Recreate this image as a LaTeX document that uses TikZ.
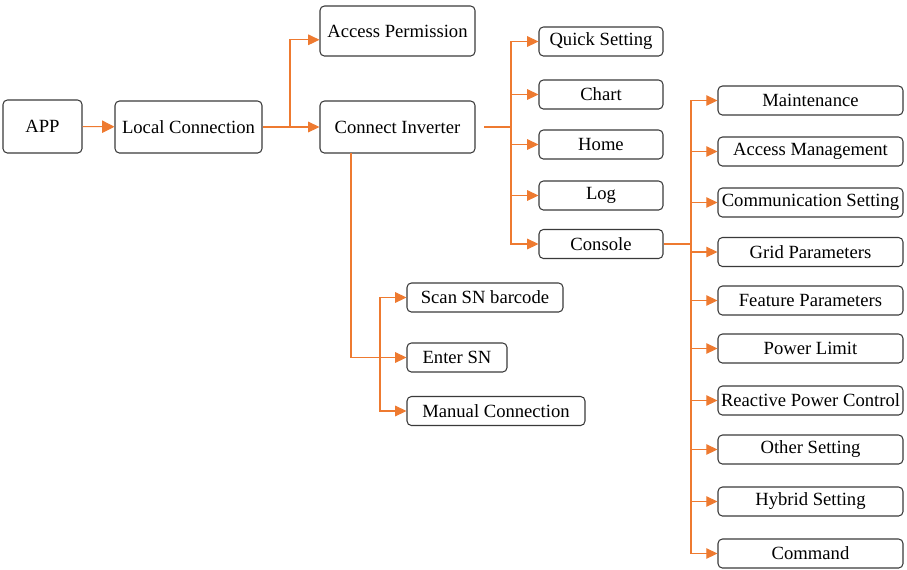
\documentclass[tikz,border=0pt]{standalone}
\usepackage{fontspec}
\setmainfont{Liberation Serif}
\usetikzlibrary{arrows.meta}
\definecolor{linkorange}{HTML}{EE7A30}
\definecolor{boxgray}{HTML}{3A3A3A}
\begin{document}
\begin{tikzpicture}[x=0.02cm,y=-0.02cm,
  box/.style={draw=boxgray,line width=0.6pt,rounded corners=2.5pt,inner sep=1pt,font=\fontsize{10.6}{12.7}\selectfont},
  bigbox/.style={box,minimum height=1.04cm},
  midbox/.style={box,minimum width=2.48cm,minimum height=0.58cm},
  setbox/.style={box,minimum width=3.70cm,minimum height=0.58cm},
  snbox/.style={box,minimum height=0.58cm},
  link/.style={draw=linkorange,line width=0.6pt},
  arr/.style={link,-{Triangle[length=6.4pt,width=6pt]}},
  bigarr/.style={link,-{Triangle[length=7pt,width=7pt]}}]
\useasboundingbox (0,0) rectangle (907,569);
\node[bigbox,minimum width=1.58cm,minimum height=1.06cm] (app) at (42.5,126.5) {APP};
\node[bigbox,minimum width=2.94cm] (lc) at (188.5,127) {Local Connection};
\node[bigbox,minimum width=3.10cm,minimum height=1.00cm] (ap) at (397.5,31) {Access Permission};
\node[bigbox,minimum width=3.10cm] (ci) at (397.5,127) {Connect Inverter};
\node[midbox] (qs) at (601,41.5) {Quick Setting};
\node[midbox] (ch) at (601,94.5) {Chart};
\node[midbox] (ho) at (601,144.5) {Home};
\node[midbox] (lg) at (601,195.5) {Log};
\node[midbox] (co) at (601,244) {Console};
\node[setbox] (mt) at (810.5,100.5) {Maintenance};
\node[setbox] (am) at (810.5,151.5) {Access Management};
\node[setbox] (cs) at (810.5,202.5) {Communication Setting};
\node[setbox] (gp) at (810.5,252) {Grid Parameters};
\node[setbox] (fp) at (810.5,300.5) {Feature Parameters};
\node[setbox] (pl) at (810.5,348.5) {Power Limit};
\node[setbox] (rp) at (810.5,400.5) {Reactive Power Control};
\node[setbox] (os) at (810.5,449.5) {Other Setting};
\node[setbox] (hs) at (810.5,501.5) {Hybrid Setting};
\node[setbox] (cm) at (810.5,553.5) {Command};
\node[snbox,minimum width=3.12cm] (sc) at (485,297.5) {Scan SN barcode};
\node[snbox,minimum width=2.00cm] (en) at (457,357.5) {Enter SN};
\node[snbox,minimum width=3.56cm] (mc) at (496,411) {Manual Connection};
\coordinate (lcj) at (290,127);
\coordinate (cio) at (484,127);
\coordinate (cij) at (511,127);
\coordinate (cib) at (351,153);
\coordinate (snj) at (380,357.5);
\coordinate (coj) at (691,244);
\draw[bigarr] (app) -- (lc);
\draw[link] (lc.east) -- (lcj);
\draw[arr] (lcj) -- (ci.west);
\draw[arr] (lcj) |- ([yshift=-5pt]ap.west);
\draw[link] (cio) -- (cij);
\draw[arr] (cij) |- (qs.west);
\draw[arr] (cij) |- (ch.west);
\draw[arr] (cij) |- (ho.west);
\draw[arr] (cij) |- (lg.west);
\draw[arr] (cij) |- (co.west);
\draw[link] (cib) |- (snj);
\draw[arr] (snj) |- (sc.west);
\draw[arr] (snj) -- (en.west);
\draw[arr] (snj) |- (mc.west);
\draw[link] (co.east) -- (coj);
\draw[arr] (coj) |- (mt.west);
\draw[arr] (coj) |- (am.west);
\draw[arr] (coj) |- (cs.west);
\draw[arr] (coj) |- (gp.west);
\draw[arr] (coj) |- (fp.west);
\draw[arr] (coj) |- (pl.west);
\draw[arr] (coj) |- (rp.west);
\draw[arr] (coj) |- (os.west);
\draw[arr] (coj) |- (hs.west);
\draw[arr] (coj) |- (cm.west);
\end{tikzpicture}
\end{document}
